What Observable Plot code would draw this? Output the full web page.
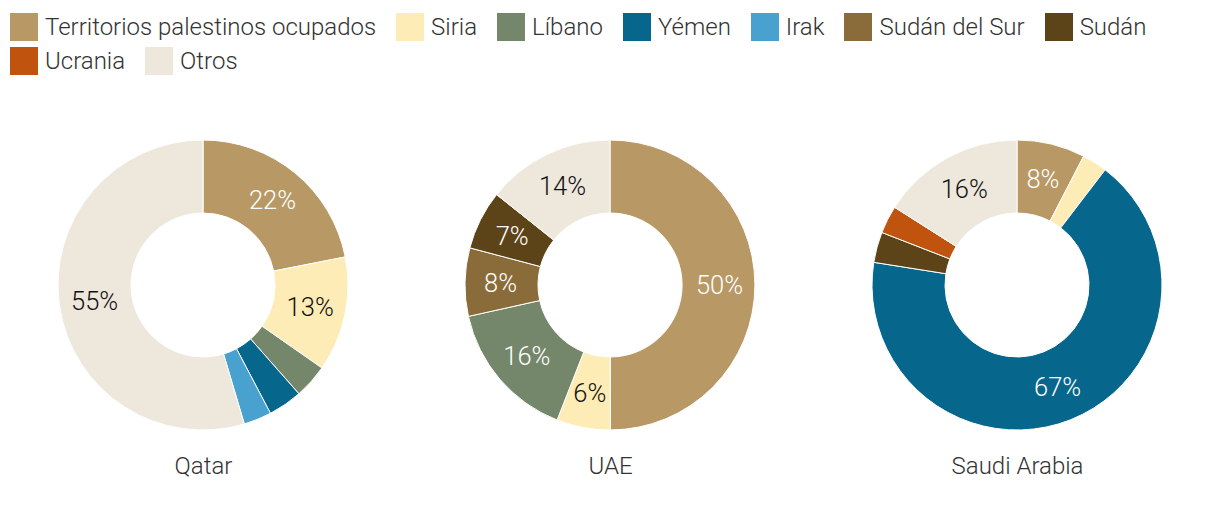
<!DOCTYPE html>
<html>
<head>
<meta charset="utf-8">
<script src="https://cdn.jsdelivr.net/npm/d3@7"></script>
<script src="https://cdn.jsdelivr.net/npm/@observablehq/plot@0.6"></script>
<style>
  body { margin: 0; background: #fff; font-family: Roboto, sans-serif; font-weight: 300; color: #333; }
  #legend { padding: 13px 0 0 10px; height: 67px; }
  #legend div { font-family: Roboto, sans-serif !important; font-weight: 300; font-size: 24px !important; color: #333; margin: 0 !important; min-height: 0 !important; row-gap: 6px; }
  #legend span { margin-right: 20px !important; height: 28px; font-family: Roboto, sans-serif; font-weight: 300; font-size: 24px; }
  #legend span > svg { margin-right: 7px !important; }
  #chart svg { font-family: Roboto, sans-serif; font-weight: 300; }
</style>
</head>
<body>
<div id="legend"></div>
<div id="chart"></div>
<script>
const categories = ["Territorios palestinos ocupados", "Siria", "Líbano", "Yémen", "Irak", "Sudán del Sur", "Sudán", "Ucrania", "Otros"];
const colors = ["#b89965", "#feecb6", "#74876b", "#06668b", "#48a1cf", "#8a6c3a", "#5c4418", "#c0530e", "#ede7dc"];
const darkText = ["Siria", "Otros"];
const countries = ["Qatar", "UAE", "Saudi Arabia"];
const qatarValues = [21.9, 12.8, 3.8, 3.8, 3.1, 0, 0, 0, 54.6];
const uaeValues   = [50.0, 6.0, 15.6, 0, 0, 7.6, 6.6, 0, 14.3];
const saudiValues = [7.6, 2.8, 0, 67.1, 0, 0, 3.4, 3.1, 16.0];
const seriesValues = [qatarValues, uaeValues, saudiValues];

const data = [];
countries.forEach((c, i) => {
  categories.forEach((cat, j) => {
    if (seriesValues[i][j] > 0) data.push({country: c, category: cat, value: seriesValues[i][j]});
  });
});

const legend = Plot.legend({
  color: {type: "ordinal", domain: categories, range: colors},
  legend: "swatches",
  swatchWidth: 28,
  swatchHeight: 28,
  className: "leg"
});
document.getElementById("legend").appendChild(legend);

const outerR = 145, innerR = 72, cy = 205;

function donuts(index, scales, values, dimensions) {
  const g = d3.create("svg:g");
  const pie = d3.pie().sort(null).value(d => d.value);
  const arc = d3.arc().innerRadius(innerR).outerRadius(outerR);
  const labelArc = d3.arc().innerRadius((innerR + outerR) / 2 + 1).outerRadius((innerR + outerR) / 2 + 1);
  for (const c of countries) {
    const rows = data.filter(d => d.country === c);
    const total = d3.sum(rows, d => d.value);
    const arcs = pie(rows);
    const cg = g.append("g").attr("transform", `translate(${scales.x(c)},${cy})`);
    cg.selectAll("path").data(arcs).join("path")
      .attr("d", arc)
      .attr("fill", d => scales.color(d.data.category))
      .attr("stroke", "#fff")
      .attr("stroke-width", 1);
    cg.selectAll("text").data(arcs.filter(d => d.data.value / total >= 0.05)).join("text")
      .attr("transform", d => `translate(${labelArc.centroid(d)})`)
      .attr("text-anchor", "middle")
      .attr("dy", "0.35em")
      .attr("font-size", 25.5)
      .attr("fill", d => darkText.includes(d.data.category) ? "#111" : "#fff")
      .text(d => Math.round(d.data.value / total * 100) + "%");
  }
  return g.node();
}

const chart = Plot.plot({
  width: 1220,
  height: 430,
  marginLeft: 203,
  marginRight: 203,
  marginTop: 0,
  marginBottom: 0,
  x: {type: "point", domain: countries, axis: null, padding: 0},
  y: {axis: null, domain: [0, 1]},
  color: {type: "ordinal", domain: categories, range: colors},
  style: {fontFamily: "Roboto, sans-serif", fontWeight: 300, background: "transparent"},
  marks: [
    donuts,
    Plot.text(countries, {x: d => d, frameAnchor: "top", dy: 376, fontSize: 24, fill: "#333", text: d => d})
  ]
});
document.getElementById("chart").appendChild(chart);
</script>
</body>
</html>
